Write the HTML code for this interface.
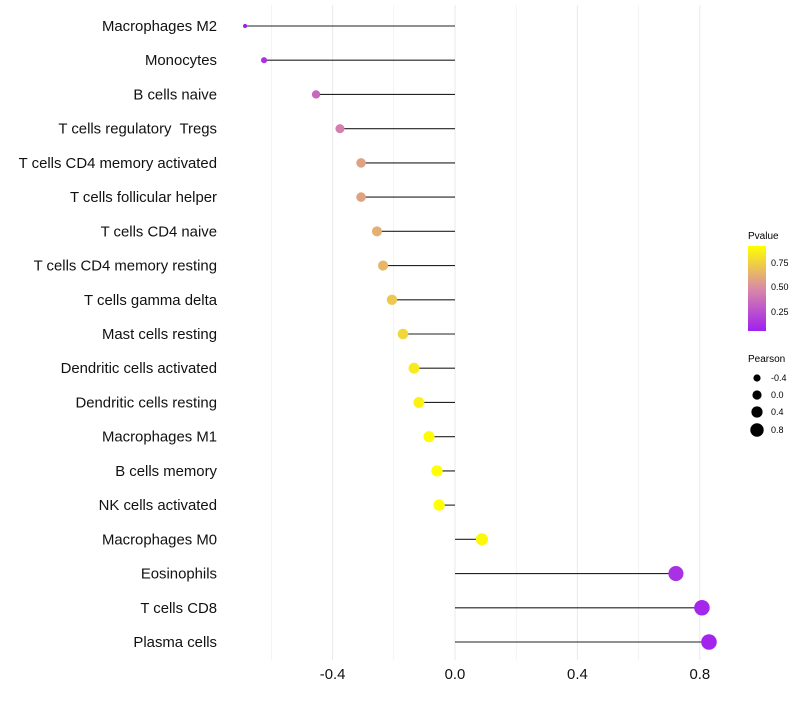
<!DOCTYPE html>
<html><head><meta charset="utf-8"><style>
body{margin:0;background:#fff;font-family:"Liberation Sans",sans-serif}
text{white-space:pre}
</style></head><body>
<svg id="c" width="800" height="700" xmlns="http://www.w3.org/2000/svg">
<defs><linearGradient id="pg" x1="0" y1="1" x2="0" y2="0">
<stop offset="0" stop-color="#a020f0"/><stop offset="0.5" stop-color="#d98aa6"/><stop offset="1" stop-color="#ffff00"/></linearGradient></defs>
<g id="grid"></g><g id="marks"></g><g id="ylab"></g><g id="xlab"></g>
<g>
<text x="748" y="239" font-size="10">Pvalue</text>
<rect x="748" y="246" width="18" height="85" fill="url(#pg)"/>
<text x="771" y="266" font-size="9">0.75</text>
<text x="771" y="290" font-size="9">0.50</text>
<text x="771" y="315" font-size="9">0.25</text>
</g>
<g>
<text x="748" y="362" font-size="10">Pearson</text>
<circle cx="757" cy="378" r="3.6"/><text x="771" y="381" font-size="9">-0.4</text>
<circle cx="757" cy="395" r="4.6"/><text x="771" y="398" font-size="9">0.0</text>
<circle cx="757" cy="412" r="5.6"/><text x="771" y="415" font-size="9">0.4</text>
<circle cx="757" cy="430" r="6.7"/><text x="771" y="433" font-size="9">0.8</text>
</g>
</svg>
<script>
const categories=["Macrophages M2","Monocytes","B cells naive","T cells regulatory  Tregs","T cells CD4 memory activated","T cells follicular helper","T cells CD4 naive","T cells CD4 memory resting","T cells gamma delta","Mast cells resting","Dendritic cells activated","Dendritic cells resting","Macrophages M1","B cells memory","NK cells activated","Macrophages M0","Eosinophils","T cells CD8","Plasma cells"];
const pearson=[-0.686,-0.624,-0.454,-0.376,-0.307,-0.307,-0.255,-0.235,-0.206,-0.170,-0.134,-0.118,-0.085,-0.059,-0.052,0.088,0.722,0.807,0.830];
const pvalue=[0.05,0.12,0.35,0.45,0.58,0.58,0.63,0.66,0.72,0.78,0.85,0.88,0.92,0.95,0.96,0.9,0.12,0.08,0.07];
const xticks=[-0.4,0,0.4,0.8];
const xtickLabels=["-0.4","0.0","0.4","0.8"];
const NS="http://www.w3.org/2000/svg";
const X=v=>455+v*306;
const Y=i=>26+i*(642-26)/(categories.length-1);
const R=v=>1.8+6*Math.sqrt(Math.max(0,(v+0.69)/1.52));
function col(p){
 const t=Math.max(0,Math.min(1,(p-0.05)/0.88));
 const a=t<0.5?[160,32,240]:[217,138,166],b=t<0.5?[217,138,166]:[255,255,0],u=t<0.5?t*2:(t-0.5)*2;
 return `rgb(${a.map((x,k)=>Math.round(x+(b[k]-x)*u)).join(",")})`;
}
function mk(tag,at,parent){const e=document.createElementNS(NS,tag);for(const k in at)e.setAttribute(k,at[k]);document.getElementById(parent).appendChild(e);return e;}
for(let v=-0.6;v<=0.81;v+=0.2){
 const g=mk("line",{x1:X(v),x2:X(v),y1:5,y2:660,stroke:"#ebebeb","stroke-width":Math.abs(Math.round(v*10))%4==0?1.1:0.6},"grid");
 
 
}
categories.forEach((c,i)=>{
 const l=mk("line",{x1:X(0),x2:X(pearson[i]),y1:Y(i),y2:Y(i),stroke:"#222","stroke-width":1.1},"marks");
 
 
 const p=mk("circle",{cx:X(pearson[i]),cy:Y(i),r:R(pearson[i]),fill:col(pvalue[i])},"marks");
 
 
 const t=mk("text",{x:217,y:Y(i)+5,"text-anchor":"end","font-size":14.9,fill:"#111"},"ylab");
 t.textContent=c;
 
 
});
xticks.forEach((v,i)=>{
 const t=mk("text",{x:X(v),y:679,"text-anchor":"middle","font-size":14.9,fill:"#111"},"xlab");
 t.textContent=xtickLabels[i];
 
 
});
</script>
</body></html>
